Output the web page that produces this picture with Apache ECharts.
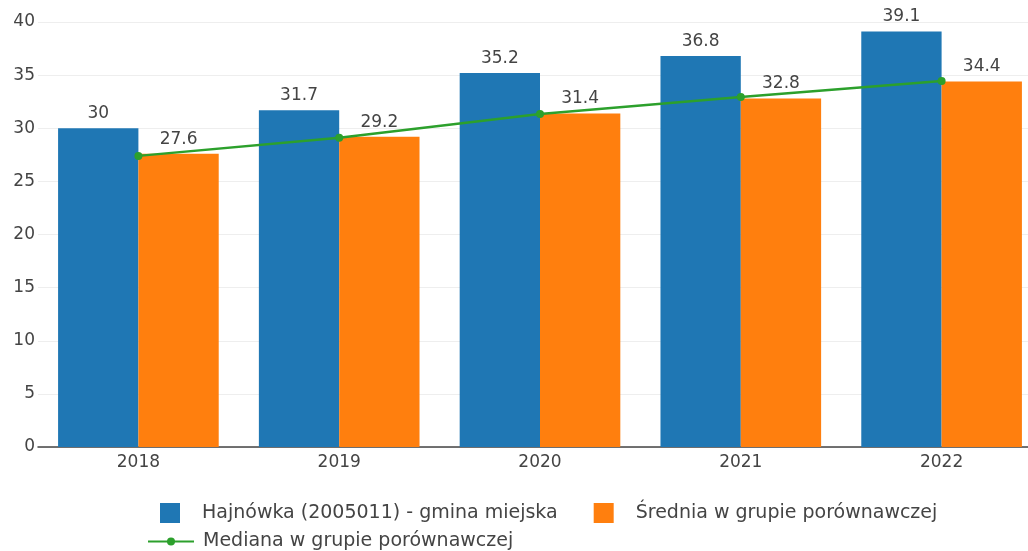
<!DOCTYPE html>
<html>
<head>
<meta charset="utf-8">
<script src="https://cdn.jsdelivr.net/npm/echarts@6/dist/echarts.min.js"></script>
<style>
  html, body { margin: 0; padding: 0; background: #fff; overflow: hidden; }
  #chart { width: 1042px; height: 551px; }
</style>
</head>
<body>
<div id="chart"></div>
<script>
  // dane
  const years = ['2018', '2019', '2020', '2021', '2022']
  const hajnowka = [30, 31.7, 35.2, 36.8, 39.1]
  const srednia = [27.6, 29.2, 31.4, 32.8, 34.4]
  const mediana = [27.4, 29.1, 31.35, 32.95, 34.45]
  const yTicks = [0, 5, 10, 15, 20, 25, 30, 35, 40]

  const font = 'DejaVu Sans'
  const textColor = '#444'

  const chart = echarts.init(document.getElementById('chart'))

  const barLabel = {
    show: true,
    position: 'top',
    distance: 6,
    color: textColor,
    fontSize: 17,
    fontFamily: font
  }

  chart.setOption({
    animation: false,
    textStyle: { fontFamily: font },
    // wykres jest szerszy niz okno - prawa krawedz jest ucieta jak w oryginale
    grid: {
      left: 38,
      right: 0,
      top: 22,
      bottom: 104,
      containLabel: false
    },
    legend: [
      {
        data: ['Hajnówka (2005011) - gmina miejska', 'Średnia w grupie porównawczej'],
        left: 155,
        top: 498,
        icon: 'rect',
        itemWidth: 20,
        itemHeight: 20,
        itemGap: 36,
        textStyle: { color: textColor, fontSize: 19, fontFamily: font, padding: [0, 0, 0, 17] }
      },
      {
        data: ['Mediana w grupie porównawczej'],
        left: 142,
        top: 527,
        itemWidth: 46,
        itemHeight: 10,
        textStyle: { color: textColor, fontSize: 19, fontFamily: font, padding: [0, 0, 0, 4] }
      }
    ],
    xAxis: {
      type: 'category',
      data: years,
      axisTick: { show: false },
      axisLine: { show: true, lineStyle: { color: '#444', width: 1.5 } },
      axisLabel: { color: textColor, fontSize: 17, fontFamily: font, margin: 7 }
    },
    yAxis: {
      type: 'value',
      min: yTicks[0],
      max: yTicks[yTicks.length - 1],
      interval: 5,
      axisLine: { show: false },
      axisTick: { show: false },
      splitLine: { lineStyle: { color: '#eee', width: 1 } },
      axisLabel: { color: textColor, fontSize: 17, fontFamily: font, margin: 3 }
    },
    series: [
      {
        name: 'Hajnówka (2005011) - gmina miejska',
        type: 'bar',
        data: hajnowka,
        barGap: 0,
        barCategoryGap: '20%',
        itemStyle: { color: '#1f77b4' },
        label: barLabel
      },
      {
        name: 'Średnia w grupie porównawczej',
        type: 'bar',
        data: srednia,
        itemStyle: { color: '#ff7f0e' },
        label: barLabel
      },
      {
        name: 'Mediana w grupie porównawczej',
        type: 'line',
        data: mediana,
        symbol: 'circle',
        symbolSize: 8,
        lineStyle: { color: '#2ca02c', width: 2.5 },
        itemStyle: { color: '#2ca02c' },
        z: 5
      }
    ]
  })
</script>
</body>
</html>
